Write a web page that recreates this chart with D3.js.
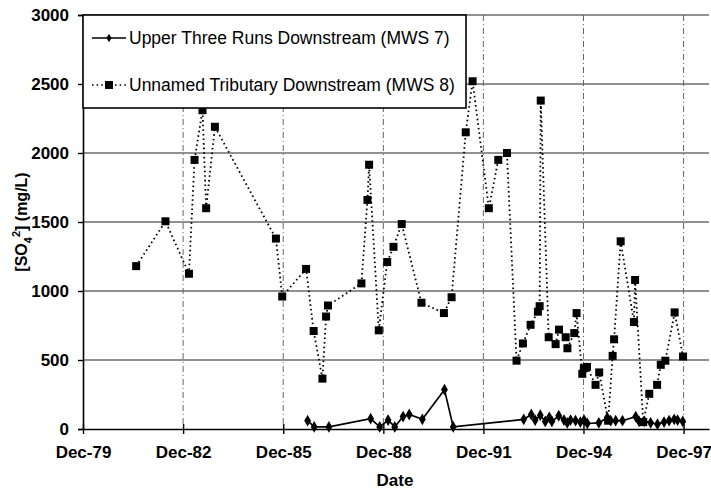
<!DOCTYPE html>
<html>
<head>
<meta charset="utf-8">
<script src="https://cdn.jsdelivr.net/npm/d3@7"></script>
<style>
  body { margin: 0; background: #fff; }
  svg { font-family: "Liberation Sans", Arial, sans-serif; }
</style>
</head>
<body>
<svg width="711" height="490"></svg>
<script>
// MWS 7 - Upper Three Runs Downstream
const mws7Dates = [
  "1986-08-25","1986-11-05","1987-04-15","1988-07-15","1988-10-22","1989-01-22",
  "1989-04-05","1989-07-05","1989-09-10","1990-02-01","1990-10-01","1991-01-05",
  "1993-02-15","1993-05-08","1993-06-20","1993-08-15","1993-10-08","1993-11-22",
  "1993-12-20","1994-03-05","1994-05-01","1994-06-06","1994-07-12","1994-09-05",
  "1994-10-28","1994-12-07","1995-01-12","1995-05-18","1995-08-18","1995-09-24",
  "1995-11-18","1996-02-01","1996-06-25","1996-08-01","1996-09-26","1996-12-05",
  "1997-02-18","1997-05-01","1997-06-25","1997-08-20","1997-09-26","1997-11-22"
];
const mws7Values = [
  60, 15, 15, 75, 15, 65,
  15, 90, 105, 70, 285, 15,
  70, 105, 65, 100, 55, 85,
  55, 96, 65, 45, 65, 60,
  50, 65, 40, 45, 82, 60,
  60, 60, 90, 55, 55, 45,
  35, 50, 60, 70, 65, 55
];

// MWS 8 - Unnamed Tributary Downstream
const mws8Dates = [
  "1981-07-05","1982-05-22","1983-02-03","1983-04-05","1983-07-01","1983-08-10",
  "1983-11-14","1985-09-12","1985-11-20","1986-08-08","1986-10-30","1987-02-03",
  "1987-03-15","1987-04-05","1988-04-05","1988-06-10","1988-06-28","1988-10-12",
  "1989-01-12","1989-03-22","1989-06-20","1990-01-22","1990-09-25","1990-12-18",
  "1991-05-22","1991-08-05","1992-01-30","1992-05-12","1992-08-15","1992-11-28",
  "1993-02-06","1993-05-01","1993-07-20","1993-08-08","1993-08-20","1993-11-15",
  "1994-01-30","1994-03-08","1994-05-20","1994-06-08","1994-08-22","1994-09-16",
  "1994-11-18","1994-12-05","1995-01-08","1995-04-12","1995-05-22","1995-08-28",
  "1995-10-16","1995-11-01","1996-01-12","1996-06-05","1996-06-18","1996-09-15",
  "1996-11-20","1997-02-14","1997-03-26","1997-05-15","1997-08-25","1997-11-25"
];
const mws8Values = [
  1180, 1505, 1125, 1950, 2310, 1600,
  2190, 1380, 960, 1160, 710, 365,
  815, 895, 1055, 1660, 1915, 715,
  1210, 1320, 1485, 915, 840, 955,
  2150, 2520, 1600, 1950, 2000, 495,
  620, 755, 850, 890, 2380, 665,
  615, 720, 665, 585, 695, 840,
  400, 440, 450, 320, 410, 60,
  530, 650, 1360, 775, 1080, 50,
  255, 320, 465, 495, 845, 525
];

const xTickDates = ["1979-12-01","1982-12-01","1985-12-01","1988-12-01","1991-12-01","1994-12-01","1997-12-01"];
const yTicks = [0, 500, 1000, 1500, 2000, 2500, 3000];
const legendLabels = ["Upper Three Runs Downstream (MWS 7)", "Unnamed Tributary Downstream (MWS 8)"];

const svg = d3.select("svg");
const parse = d3.timeParse("%Y-%m-%d");

const plotL = 83, plotR = 709, plotT = 15, plotB = 429;

const x = d3.scaleTime()
  .domain([parse("1979-12-01"), parse("1998-09-05")])
  .range([plotL, plotR]);

const y = d3.scaleLinear()
  .domain([0, 3000])
  .range([plotB, plotT]);

const mws7 = mws7Dates.map((d, i) => ({ date: parse(d), value: mws7Values[i] }));
const mws8 = mws8Dates.map((d, i) => ({ date: parse(d), value: mws8Values[i] }));

// grid
svg.append("g")
  .selectAll("line")
  .data(yTicks.slice(1))
  .enter().append("line")
  .attr("x1", plotL).attr("x2", plotR)
  .attr("y1", d => y(d)).attr("y2", d => y(d))
  .attr("stroke", "#222")
  .attr("stroke-width", 1);

svg.append("g")
  .selectAll("line")
  .data(xTickDates.slice(1))
  .enter().append("line")
  .attr("x1", d => x(parse(d))).attr("x2", d => x(parse(d)))
  .attr("y1", plotT).attr("y2", plotB)
  .attr("stroke", "#666")
  .attr("stroke-width", 1)
  .attr("stroke-dasharray", "6,3,1,3");

// axes
const yAxis = svg.append("g")
  .attr("transform", `translate(${plotL},0)`)
  .call(d3.axisLeft(y).tickValues(yTicks).tickFormat(d3.format("d")).tickSize(5).tickPadding(9));

const xAxis = svg.append("g")
  .attr("transform", `translate(0,${plotB})`)
  .call(d3.axisBottom(x)
    .tickValues(xTickDates.map(parse))
    .tickFormat(d3.timeFormat("Dec-%y"))
    .tickSizeInner(5).tickSizeOuter(0).tickPadding(12));

[yAxis, xAxis].forEach(a => {
  a.select(".domain").attr("stroke", "#000").attr("stroke-width", 1.6);
  a.selectAll(".tick line").attr("stroke", "#000").attr("stroke-width", 1.4);
  a.selectAll("text")
    .attr("fill", "#000")
    .style("font-size", "17px")
    .style("font-weight", "bold")
    .style("font-family", "'Liberation Sans', Arial, sans-serif");
});
xAxis.selectAll(".tick line").attr("y1", -5);

// series
const line = d3.line()
  .x(d => x(d.date))
  .y(d => y(d.value));

svg.append("path")
  .datum(mws8)
  .attr("fill", "none")
  .attr("stroke", "#000")
  .attr("stroke-width", 1.8)
  .attr("stroke-dasharray", "1.6,3")
  .attr("d", line);

svg.append("path")
  .datum(mws7)
  .attr("fill", "none")
  .attr("stroke", "#000")
  .attr("stroke-width", 1.7)
  .attr("d", line);

const square = d3.symbol().type(d3.symbolSquare).size(64);
const diamond = d3.symbol().type(d3.symbolDiamond).size(40);

svg.append("g")
  .selectAll("path")
  .data(mws8)
  .enter().append("path")
  .attr("transform", d => `translate(${x(d.date)},${y(d.value)})`)
  .attr("d", square)
  .attr("fill", "#000");

svg.append("g")
  .selectAll("path")
  .data(mws7)
  .enter().append("path")
  .attr("transform", d => `translate(${x(d.date)},${y(d.value)})`)
  .attr("d", diamond)
  .attr("fill", "#000");

// legend
const legend = svg.append("g");
legend.append("rect")
  .attr("x", plotL).attr("y", plotT)
  .attr("width", 383).attr("height", 93)
  .attr("fill", "#fff")
  .attr("stroke", "#000")
  .attr("stroke-width", 1.6);

const legendRows = legend.selectAll("g.row")
  .data(legendLabels)
  .enter().append("g")
  .attr("class", "row")
  .attr("transform", (d, i) => `translate(0,${38 + i * 47})`);

legendRows.append("line")
  .attr("x1", 92).attr("x2", 126)
  .attr("stroke", "#000")
  .attr("stroke-width", 1.7)
  .attr("stroke-dasharray", (d, i) => i === 1 ? "1.6,3" : null);

legendRows.append("path")
  .attr("transform", "translate(109,0)")
  .attr("d", (d, i) => i === 1 ? square() : d3.symbol().type(d3.symbolDiamond).size(22)())
  .attr("fill", "#000");

legendRows.append("text")
  .attr("x", 129)
  .attr("dy", "0.35em")
  .style("font-size", "17.5px")
  .text(d => d);

// axis titles
svg.append("text")
  .attr("x", 395).attr("y", 486)
  .attr("text-anchor", "middle")
  .style("font-size", "17px")
  .style("font-weight", "bold")
  .text("Date");

const yTitle = svg.append("text")
  .attr("transform", "translate(27,222) rotate(-90)")
  .attr("text-anchor", "middle")
  .style("font-size", "16px")
  .style("font-weight", "bold");
yTitle.append("tspan").text("[SO");
yTitle.append("tspan").attr("dy", 5).style("font-size", "11px").text("4");
yTitle.append("tspan").attr("dy", -12).style("font-size", "11px").text("2");
yTitle.append("tspan").attr("dy", 7).text("] (mg/L)");
</script>
</body>
</html>
